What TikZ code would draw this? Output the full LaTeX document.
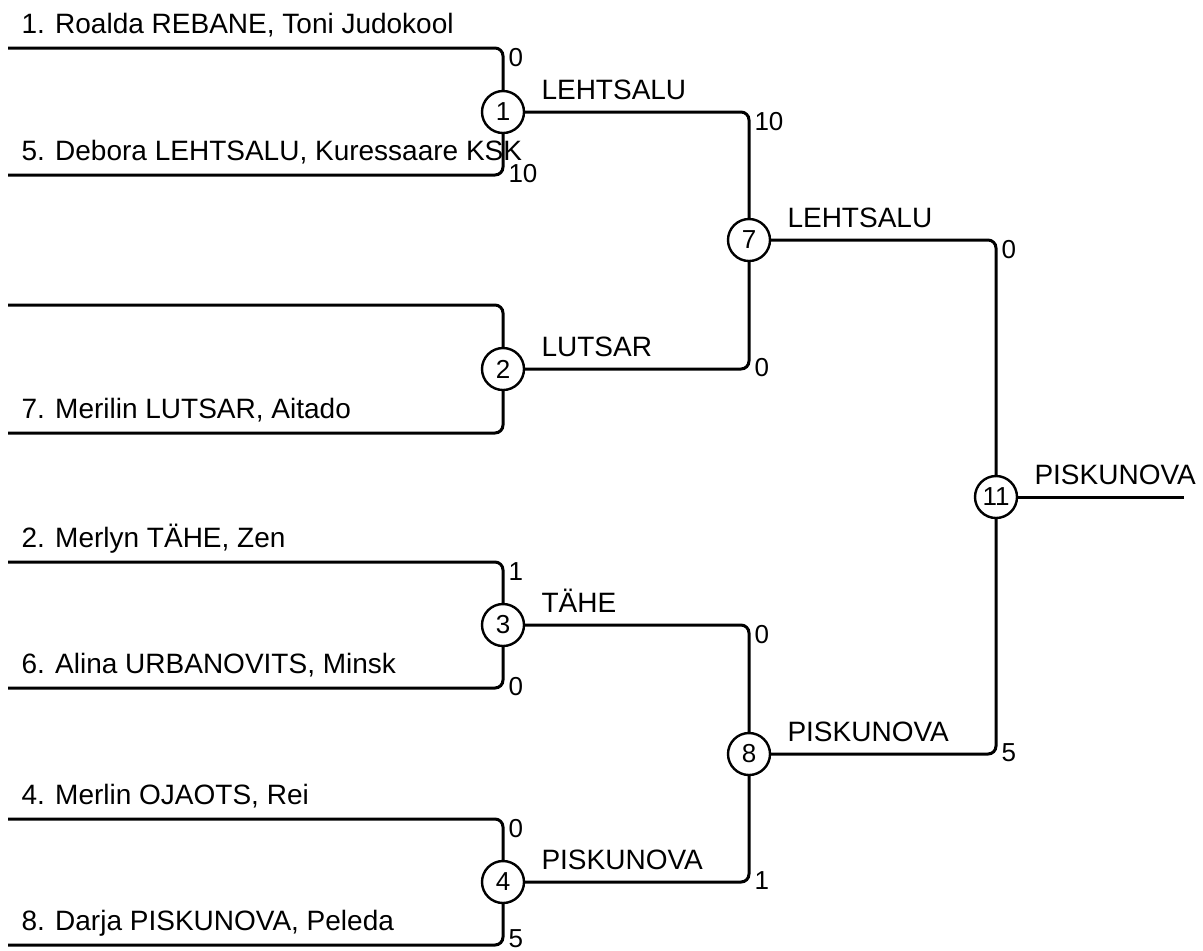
\documentclass[tikz,border=0pt]{standalone}
\usepackage{fontspec}
\setmainfont{Liberation Sans}

\begin{document}
\begin{tikzpicture}[x=0.5pt,y=-0.5pt,line width=1.5pt,rounded corners=4pt,
    bout/.style={circle,draw,line width=1.2pt,minimum size=21pt,inner sep=0pt,font=\fontsize{13}{15}\selectfont},
    entrant/.style={anchor=base west,inner sep=0pt,font=\fontsize{14}{17}\selectfont},
    winner/.style={anchor=base west,inner sep=0pt,font=\fontsize{14}{17}\selectfont},
    score/.style={anchor=base west,inner sep=0pt,font=\fontsize{13}{15}\selectfont}]
    \useasboundingbox (0,0) rectangle (1203,950);
    \node[bout] (m1) at (503,112) {1};
    \node[bout] (m2) at (503,369) {2};
    \node[bout] (m3) at (503,625) {3};
    \node[bout] (m4) at (503,882) {4};
    \node[bout] (m7) at (749,240) {7};
    \node[bout] (m8) at (749,754) {8};
    \node[bout] (m11) at (996,497) {11};
    \coordinate (p1) at (8,48);
    \coordinate (p5) at (8,175);
    \coordinate (p3) at (8,305);
    \coordinate (p7) at (8,433);
    \coordinate (p2) at (8,562);
    \coordinate (p6) at (8,688);
    \coordinate (p4) at (8,819);
    \coordinate (p8) at (8,945);
    \coordinate (fin) at (1184,497);
    \draw (p1) -| (m1);
    \draw (p5) -| (m1);
    \draw (p3) -| (m2);
    \draw (p7) -| (m2);
    \draw (p2) -| (m3);
    \draw (p6) -| (m3);
    \draw (p4) -| (m4);
    \draw (p8) -| (m4);
    \draw (m1) -| (m7);
    \draw (m2) -| (m7);
    \draw (m3) -| (m8);
    \draw (m4) -| (m8);
    \draw (m7) -| (m11);
    \draw (m8) -| (m11);
    \draw (m11) -- (fin);
    \node[entrant] (n1) at (20,33) {1. Roalda REBANE, Toni Judokool};
    \node[entrant] (n5) at (20,160) {5. Debora LEHTSALU, Kuressaare KSK};
    \node[entrant] (n7) at (20,418) {7. Merilin LUTSAR, Aitado};
    \node[entrant] (n2) at (20,547) {2. Merlyn TÄHE, Zen};
    \node[entrant] (n6) at (20,673) {6. Alina URBANOVITS, Minsk};
    \node[entrant] (n4) at (20,804) {4. Merlin OJAOTS, Rei};
    \node[entrant] (n8) at (20,930) {8. Darja PISKUNOVA, Peleda};
    \node[winner] (w1) at (540,99) {LEHTSALU};
    \node[winner] (w2) at (540,356) {LUTSAR};
    \node[winner] (w3) at (540,612) {TÄHE};
    \node[winner] (w4) at (540,869) {PISKUNOVA};
    \node[winner] (w7) at (786,227) {LEHTSALU};
    \node[winner] (w8) at (786,741) {PISKUNOVA};
    \node[winner] (w11) at (1033,484) {PISKUNOVA};
    \node[score] (s1a) at (507,66) {0};
    \node[score] (s1b) at (507,182) {10};
    \node[score] (s3a) at (507,580) {1};
    \node[score] (s3b) at (507,695) {0};
    \node[score] (s4a) at (507,837) {0};
    \node[score] (s4b) at (507,947) {5};
    \node[score] (s7a) at (753,130) {10};
    \node[score] (s7b) at (753,376) {0};
    \node[score] (s8a) at (753,643) {0};
    \node[score] (s8b) at (753,889) {1};
    \node[score] (s11a) at (1000,258) {0};
    \node[score] (s11b) at (1000,761) {5};
\end{tikzpicture}
\end{document}
